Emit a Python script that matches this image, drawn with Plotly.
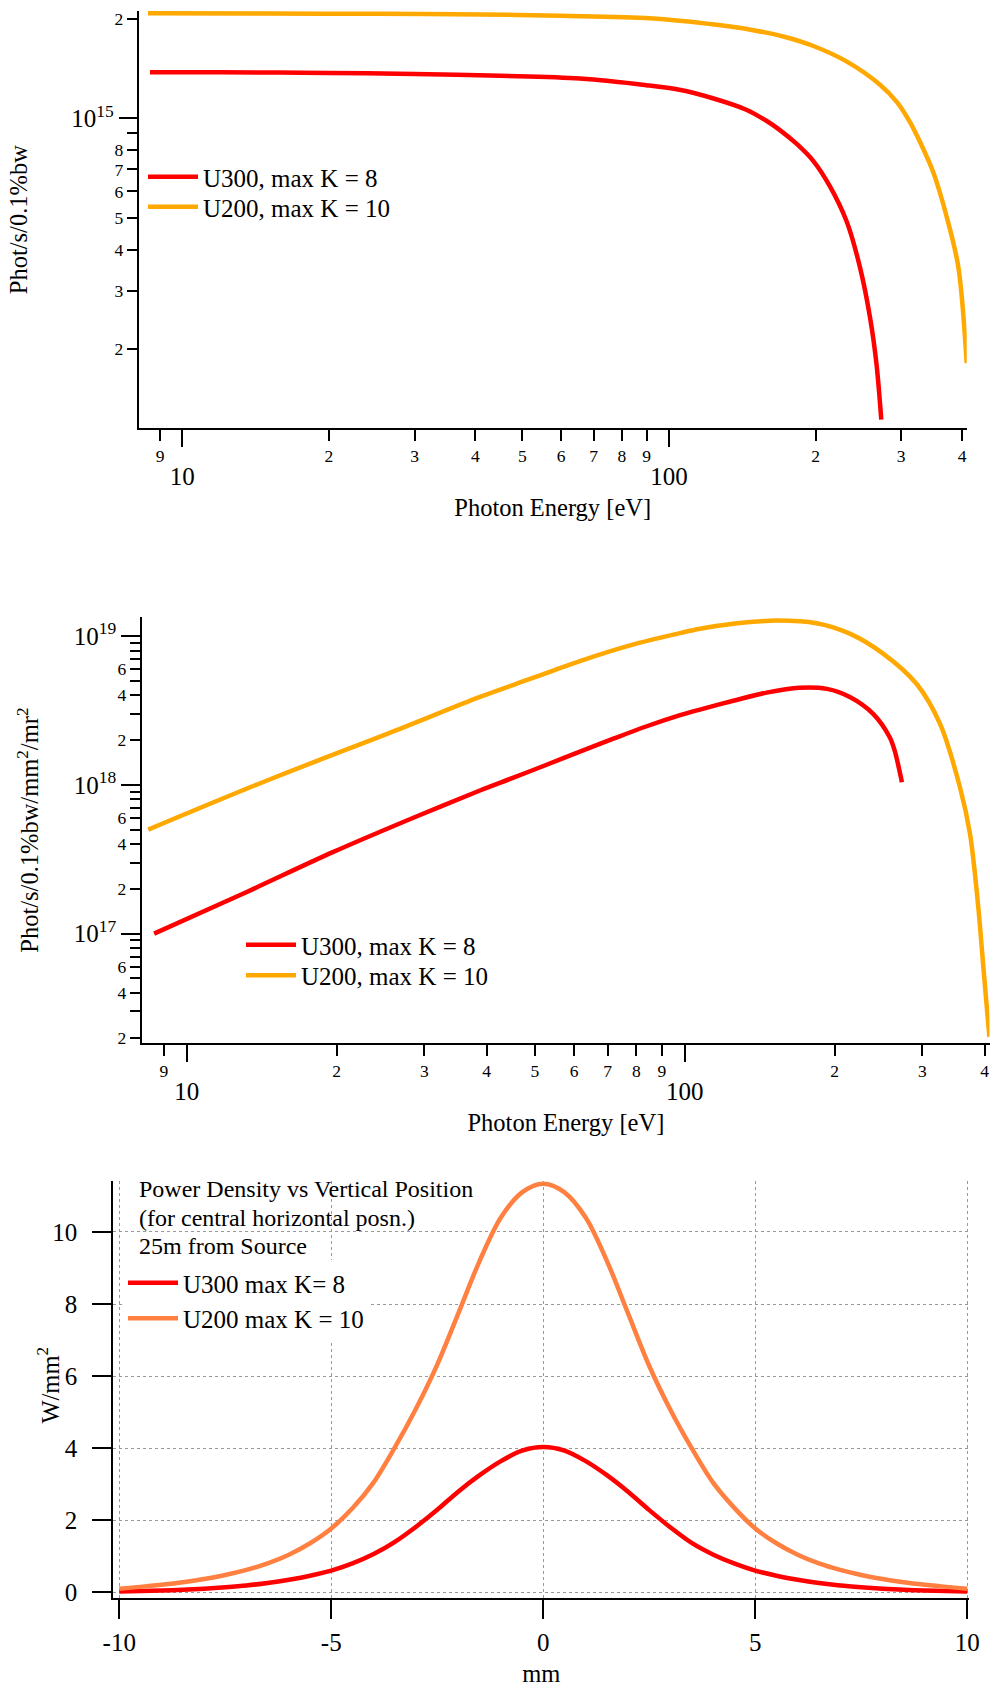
import plotly.graph_objects as go

W, H = 993, 1690
FONT = "Liberation Serif"
RED = "#FF0000"
ORANGE = "#FFA800"
CORAL = "#FF8040"

# ---------------- Panel 1: flux (Phot/s/0.1%bw) ----------------
flux_u300_energy = [8.58, 12, 20, 30, 45, 65.6, 89.9, 105, 123, 144.5, 158.8, 169, 183, 198, 214, 232, 247, 259,
                    267, 273]
flux_u300 = [1.38e15, 1.378e15, 1.372e15, 1.362e15, 1.345e15, 1.32e15, 1.26e15, 1.22e15, 1.15e15, 1.06e15,
             9.81e14, 9.21e14, 8.36e14, 7.42e14, 6.23e14, 4.85e14, 3.52e14, 2.48e14, 1.79e14, 1.22e14]
flux_u200_energy = [8.5, 15, 25, 40.9, 60, 91.4, 125.3, 148, 171.8, 198, 232, 271, 294, 312.7, 328, 349, 372,
                    393, 409]
flux_u200 = [2.08e15, 2.078e15, 2.073e15, 2.065e15, 2.045e15, 2.01e15, 1.92e15, 1.853e15, 1.77e15, 1.656e15,
             1.485e15, 1.266e15, 1.12e15, 9.74e14, 8.47e14, 6.87e14, 5.03e14, 3.55e14, 1.81e14]

# ---------------- Panel 2: brightness (Phot/s/0.1%bw/mm^2/mr^2) ----------------
bright_u300_energy = [8.6, 13.0, 19.7, 29.0, 38.8, 45.3, 52.8, 61.6, 71.9, 83.9, 97.9, 107.3, 125.2, 146, 170,
                      193, 215, 239, 258, 264, 273]
bright_u300 = [1.0e17, 1.86e17, 3.54e17, 6.15e17, 9.16e17, 1.117e18, 1.365e18, 1.671e18, 2.042e18, 2.477e18,
               2.938e18, 3.206e18, 3.673e18, 4.169e18, 4.498e18, 4.416e18, 3.882e18, 3.0e18, 2.089e18, 1.698e18,
               1.041e18]
bright_u200_energy = [8.37, 14.5, 26.8, 38.8, 48.9, 61.6, 78, 97.9, 107.3, 125.2, 153, 184, 215, 250.6, 292,
                      325.6, 357, 374, 388.6, 397.8, 409]
bright_u200 = [5.0e17, 1.07e18, 2.38e18, 3.9e18, 5.15e18, 6.8e18, 8.7e18, 1.047e19, 1.12e19, 1.21e19, 1.272e19,
               1.22e19, 1.035e19, 7.6e18, 4.78e18, 2.57e18, 9.64e17, 4.68e17, 1.5e17, 5.94e16, 2.02e16]

# ---------------- Panel 3: power density (W/mm^2) ----------------
pos_mm = [-10, -9.5, -9, -8.5, -8, -7.5, -7, -6.5, -6, -5.5, -5, -4.5, -4, -3.5, -3, -2.5, -2, -1.5, -1, -0.5, 0,
          0.5, 1, 1.5, 2, 2.5, 3, 3.5, 4, 4.5, 5, 5.5, 6, 6.5, 7, 7.5, 8, 8.5, 9, 9.5, 10]
pd_u300 = [0.02, 0.035, 0.05, 0.07, 0.10, 0.14, 0.19, 0.26, 0.35, 0.46, 0.60, 0.80, 1.06, 1.40, 1.82, 2.29,
           2.80, 3.25, 3.64, 3.93, 4.03,
           3.93, 3.64, 3.25, 2.79, 2.28, 1.80, 1.37, 1.05, 0.80, 0.60, 0.46, 0.35, 0.26, 0.19, 0.14, 0.10,
           0.07, 0.05, 0.035, 0.02]
pd_u200 = [0.10, 0.15, 0.21, 0.28, 0.37, 0.48, 0.62, 0.80, 1.04, 1.36, 1.77, 2.33, 3.05, 4.02, 5.10, 6.32,
           7.75, 9.20, 10.40, 11.10, 11.34,
           11.10, 10.40, 9.20, 7.74, 6.28, 5.06, 4.00, 3.05, 2.35, 1.77, 1.36, 1.04, 0.80, 0.62, 0.48, 0.37,
           0.28, 0.21, 0.15, 0.10]

# ---------------- tick labels ----------------
energy_minor_ticks = [9, 20, 30, 40, 50, 60, 70, 80, 90, 200, 300, 400]
energy_minor_text = ["9", "2", "3", "4", "5", "6", "7", "8", "9", "2", "3", "4"]
energy_major_ticks = [10, 100]
energy_major_text = ["10", "100"]

flux_minor_ticks = [2e14, 3e14, 4e14, 5e14, 6e14, 7e14, 8e14, 2e15]
flux_minor_text = ["2", "3", "4", "5", "6", "7", "8", "2"]
flux_unlabeled_ticks = [9e14]
flux_major_ticks = [1e15]
flux_major_text = ["10<sup>15</sup>"]

bright_minor_ticks = [2e16, 4e16, 6e16, 2e17, 4e17, 6e17, 2e18, 4e18, 6e18]
bright_minor_text = ["2", "4", "6", "2", "4", "6", "2", "4", "6"]
bright_unlabeled_ticks = [3e16, 5e16, 7e16, 8e16, 9e16,
                          3e17, 5e17, 7e17, 8e17, 9e17,
                          3e18, 5e18, 7e18, 8e18, 9e18]
bright_major_ticks = [1e17, 1e18, 1e19]
bright_major_text = ["10<sup>17</sup>", "10<sup>18</sup>", "10<sup>19</sup>"]

pos_ticks = [-10, -5, 0, 5, 10]
pos_text = ["-10", "-5", "0", "5", "10"]
pd_ticks = [0, 2, 4, 6, 8, 10]


def px(x):
    return x / W


def py(y):
    return 1 - y / H


fig = go.Figure()

LW = 4.5
SM = 0.9


def add_line(x, y, name, color, xa, ya, leg):
    fig.add_trace(go.Scatter(x=x, y=y, mode="lines", name=name,
                             line=dict(color=color, width=LW, shape="spline", smoothing=SM),
                             xaxis=xa, yaxis=ya, legend=leg))


add_line(flux_u300_energy, flux_u300, "U300, max K = 8", RED, "x", "y", "legend")
add_line(flux_u200_energy, flux_u200, "U200, max K = 10", ORANGE, "x", "y", "legend4")
add_line(bright_u300_energy, bright_u300, "U300, max K = 8", RED, "x2", "y2", "legend2")
add_line(bright_u200_energy, bright_u200, "U200, max K = 10", ORANGE, "x2", "y2", "legend5")
add_line(pos_mm, pd_u300, "U300 max K= 8", RED, "x3", "y3", "legend3")
add_line(pos_mm, pd_u200, "U200 max K = 10", CORAL, "x3", "y3", "legend3")
# empty traces so the overlay (major-tick) axes get drawn
fig.add_trace(go.Scatter(x=[], y=[], xaxis="x4", yaxis="y4", showlegend=False, hoverinfo="skip"))
fig.add_trace(go.Scatter(x=[], y=[], xaxis="x5", yaxis="y5", showlegend=False, hoverinfo="skip"))

tickstyle = dict(showgrid=False, zeroline=False, ticks="outside", tickcolor="black", tickwidth=2)

p1_x = [0.9104, 2.6117]
p1_y = [14.0603, 15.3252]
p2_x = [0.9108, 2.612]
p2_y = [16.263, 19.1284]

minor_font = dict(family=FONT, size=17.5, color="black")
major_font = dict(family=FONT, size=25, color="black")
title_font = dict(family=FONT, size=24.5, color="black")
legend_font = dict(family=FONT, size=25, color="black")


def legend_at(x_line, y_center, bg="rgba(0,0,0,0)"):
    return dict(x=px(x_line - 5), y=py(y_center - 24), xanchor="left", yanchor="top", bgcolor=bg,
                font=legend_font, itemwidth=50, tracegroupgap=0)


fig.update_layout(
    width=W, height=H, margin=dict(l=0, r=0, t=0, b=0, autoexpand=False),
    paper_bgcolor="white", plot_bgcolor="white",
    font=dict(family=FONT, color="black"),
    # ---- panel 1
    xaxis=dict(domain=[px(138.7), px(966.7)], anchor="y", type="log", range=p1_x,
               tickmode="array", tickvals=energy_minor_ticks, ticktext=energy_minor_text,
               ticklen=11, tickfont=minor_font, showline=True, linecolor="black", linewidth=2,
               title=dict(text="Photon Energy [eV]", font=title_font, standoff=34), **tickstyle),
    xaxis4=dict(overlaying="x", anchor="y", type="log", range=p1_x, side="bottom",
                tickmode="array", tickvals=energy_major_ticks, ticktext=energy_major_text,
                ticklen=18, tickfont=major_font, showline=False, ticklabelstandoff=8, **tickstyle),
    yaxis=dict(domain=[py(428.3), py(11)], anchor="x", type="log", range=p1_y,
               tickmode="array", tickvals=flux_minor_ticks, ticktext=flux_minor_text,
               minor=dict(tickmode="array", tickvals=flux_unlabeled_ticks, ticklen=10, ticks="outside",
                          tickcolor="black", tickwidth=2, showgrid=False),
               ticklen=10, tickfont=minor_font, showline=True, linecolor="black", linewidth=2,
               title=dict(text="Phot/s/0.1%bw", font=title_font, standoff=80), **tickstyle),
    yaxis4=dict(overlaying="y", anchor="x", type="log", range=p1_y, side="left",
                tickmode="array", tickvals=flux_major_ticks, ticktext=flux_major_text,
                ticklen=19, tickfont=major_font, showline=False, **tickstyle),
    # ---- panel 2
    xaxis2=dict(domain=[px(142.3), px(989.5)], anchor="y2", type="log", range=p2_x,
                tickmode="array", tickvals=energy_minor_ticks, ticktext=energy_minor_text,
                ticklen=11, tickfont=minor_font, showline=True, linecolor="black", linewidth=2,
                title=dict(text="Photon Energy [eV]", font=title_font, standoff=34), **tickstyle),
    xaxis5=dict(overlaying="x2", anchor="y2", type="log", range=p2_x, side="bottom",
                tickmode="array", tickvals=energy_major_ticks, ticktext=energy_major_text,
                ticklen=18, tickfont=major_font, showline=False, ticklabelstandoff=8, **tickstyle),
    yaxis2=dict(domain=[py(1043.2), py(617)], anchor="x2", type="log", range=p2_y,
                tickmode="array", tickvals=bright_minor_ticks, ticktext=bright_minor_text,
                minor=dict(tickmode="array", tickvals=bright_unlabeled_ticks, ticklen=10.5, ticks="outside",
                           tickcolor="black", tickwidth=2, showgrid=False),
                ticklen=10.5, tickfont=minor_font, showline=True, linecolor="black", linewidth=2,
                title=dict(text="Phot/s/0.1%bw/mm<sup>2</sup>/mr<sup>2</sup>", font=title_font, standoff=72),
                **tickstyle),
    yaxis5=dict(overlaying="y2", anchor="x2", type="log", range=p2_y, side="left",
                tickmode="array", tickvals=bright_major_ticks, ticktext=bright_major_text,
                ticklen=20, tickfont=major_font, showline=False, **tickstyle),
    # ---- panel 3
    xaxis3=dict(domain=[px(113.3), px(969.4)], anchor="y3", range=[-10.14, 10.05],
                tickmode="array", tickvals=pos_ticks, ticktext=pos_text, ticklen=19, tickfont=major_font,
                showline=True, linecolor="black", linewidth=2, ticks="outside", tickcolor="black", tickwidth=2,
                showgrid=True, gridcolor="#999999", gridwidth=1, griddash="dot", zeroline=False,
                ticklabelstandoff=2,
                title=dict(text="mm", font=title_font, standoff=9)),
    yaxis3=dict(domain=[py(1598.4), py(1181)], anchor="x3", range=[-0.17, 11.415],
                tickmode="array", tickvals=pd_ticks, ticklen=19, tickfont=major_font,
                showline=True, linecolor="black", linewidth=2, ticks="outside", tickcolor="black", tickwidth=2,
                showgrid=True, gridcolor="#999999", gridwidth=1, griddash="dot", zeroline=False,
                ticklabelstandoff=10),
    legend=legend_at(148, 178),
    legend4=legend_at(148, 208),
    legend2=legend_at(246, 946),
    legend5=legend_at(246, 976.4),
    legend3=dict(x=px(123), y=py(1260), xanchor="left", yanchor="top", bgcolor="white",
                 font=legend_font, itemwidth=50, tracegroupgap=0),
    showlegend=True,
    annotations=[
        dict(text="Power Density vs Vertical Position", x=px(136.7), y=py(1188.7), xref="paper", yref="paper",
             xanchor="left", yanchor="middle", showarrow=False, font=dict(family=FONT, size=24, color="black")),
        dict(text="(for central horizontal posn.)", x=px(136.7), y=py(1217.5), xref="paper", yref="paper",
             xanchor="left", yanchor="middle", showarrow=False, font=dict(family=FONT, size=24, color="black")),
        dict(text="25m from Source", x=px(136.7), y=py(1246.2), xref="paper", yref="paper",
             xanchor="left", yanchor="middle", showarrow=False, font=dict(family=FONT, size=24, color="black")),
        dict(text="W/mm<sup>2</sup>", x=px(48), y=py(1385.6), xref="paper", yref="paper", textangle=-90,
             xanchor="center", yanchor="middle", showarrow=False, font=title_font),
    ],
)
fig.write_html("out.html", config={"displayModeBar": False},
               post_script="document.body.style.margin='0px';")
